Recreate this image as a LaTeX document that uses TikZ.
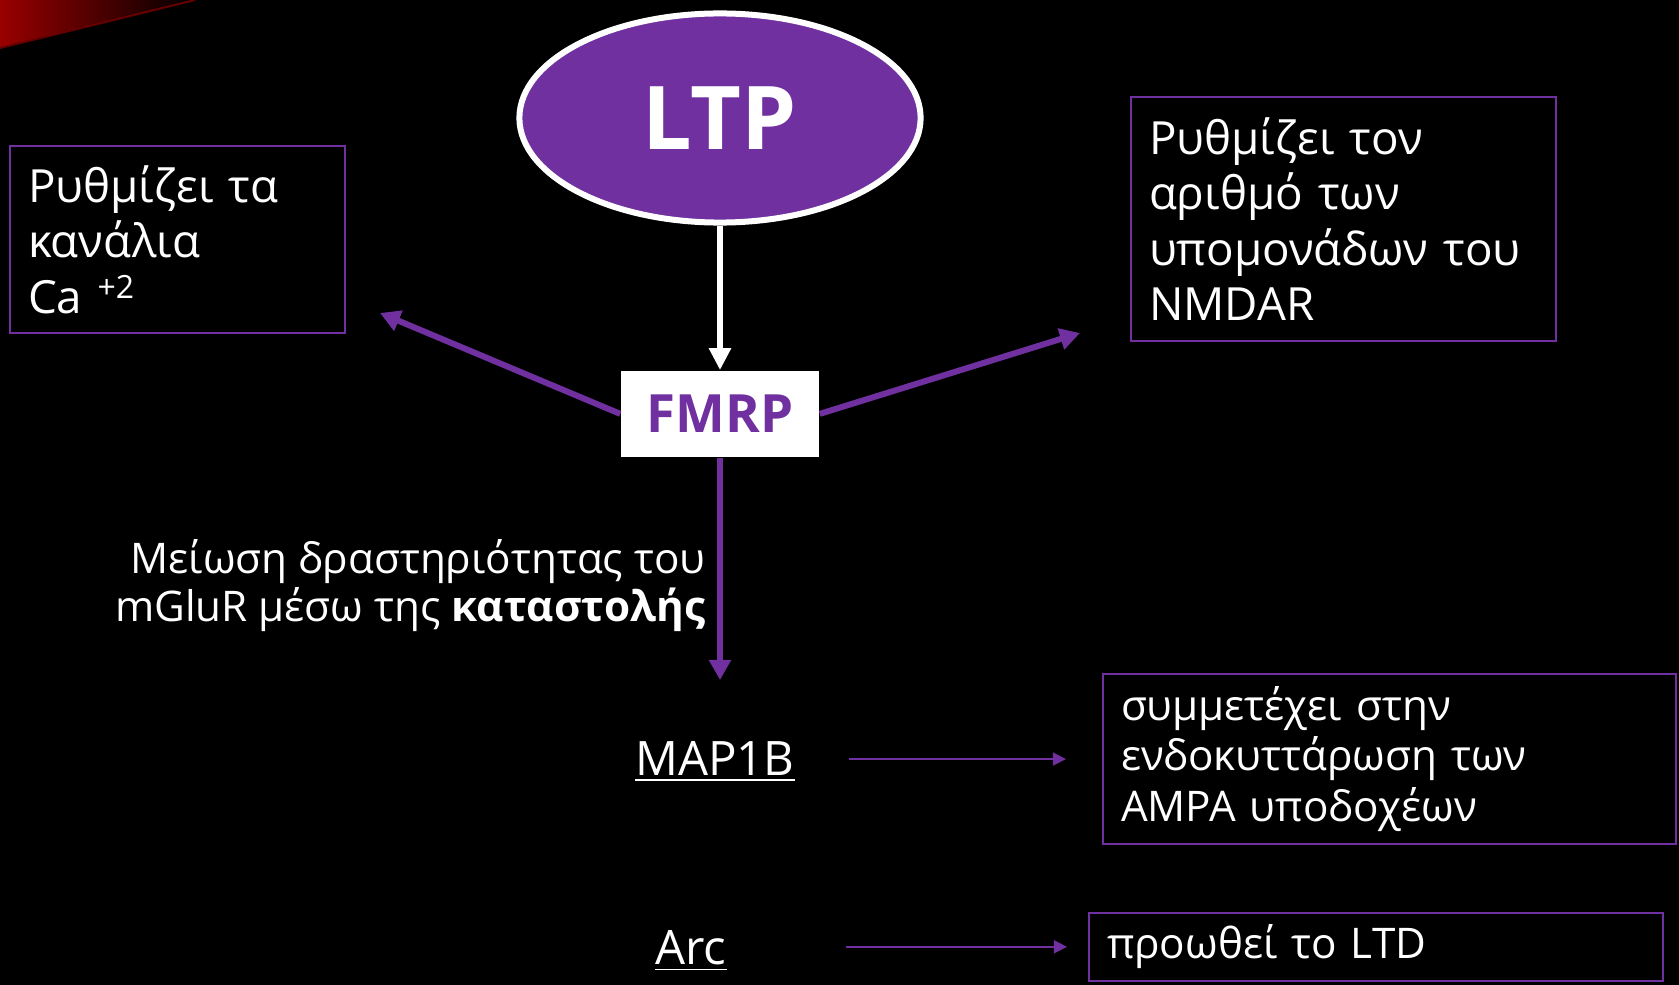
\documentclass[tikz,border=0pt]{standalone}
\usepackage{fontspec}
\setmainfont{Open Sans}
\usetikzlibrary{shapes.geometric, arrows.meta, positioning}
\definecolor{LtpPurple}{RGB}{112,48,160}

\begin{document}
\begin{tikzpicture}[
        x=0.01cm, y=-0.01cm,
        box/.style={draw=LtpPurple, line width=0.02cm, text=white, align=left, anchor=north west, inner xsep=0.18cm, font=\fontsize{13}{15.8}\selectfont},
        small/.style={box, font=\fontsize{12}{14.4}\selectfont},
        oval/.style={ellipse, draw=white, line width=0.06cm, fill=LtpPurple, text=white, inner sep=0pt, minimum width=4.01cm, minimum height=2.09cm, font=\bfseries\fontsize{25}{30}\selectfont},
        hub/.style={fill=white, text=LtpPurple, minimum width=1.98cm, minimum height=0.86cm, font=\bfseries\fontsize{15}{18}\selectfont},
        gene/.style={text=white, inner sep=0pt, anchor=base, font=\fontsize{13.5}{16}\selectfont},
        arrow/.style={-{Triangle[length=0.2cm, width=0.21cm]}, line width=0.06cm, LtpPurple},
        link/.style={-{Triangle[length=0.13cm, width=0.13cm]}, line width=0.015cm, LtpPurple}
    ]
    \useasboundingbox (0,0) rectangle (1679,985);
    \fill[black] (0,0) rectangle (1679,985);
    \shade[left color=red!60!black, right color=black] (0,0) -- (195,0) -- (0,48) -- cycle;
    \draw[red!40!black, line width=0.02cm] (0,48) -- (195,0);

    \node[oval] (ltp) at (720,118) {LTP};
    \node[hub, below=1.445cm of ltp] (fmrp) {FMRP};

    \node[box, text width=2.99cm, minimum height=1.87cm] (calcium) at (9,145) {Ρυθμίζει~τα\\κανάλια\\Ca \textsuperscript{+2}};
    \node[box, text width=3.89cm, minimum height=2.44cm] (nmdar) at (1130,96) {Ρυθμίζει~τον\\αριθμό~των\\υπομονάδων~του\\NMDAR};

    \node[gene] (mapb) at (715,775) {\underline{MAP1B}};
    \node[gene] (arc) at (691,964) {\underline{Arc}};
    \node[small, text width=5.37cm, minimum height=1.70cm] (ampa) at (1102,673) {συμμετέχει~στην\\ενδοκυττάρωση~των\\AMPA~υποδοχέων};
    \node[small, text width=5.38cm, minimum height=0.67cm] (ltd) at (1088,912) {προωθεί~το~LTD};

    \coordinate (catip) at (380,313);
    \coordinate (nmtip) at (1080,333);
    \coordinate (maptip) at (720,680);

    \draw[arrow, white, -{Triangle[length=0.22cm, width=0.21cm]}] (ltp) -- (fmrp);
    \draw[arrow] (fmrp.west) -- (catip);
    \draw[arrow] (fmrp.east) -- (nmtip);
    \draw[arrow] (fmrp) -- (maptip)
        node[left, pos=0.576, align=right, text=white, font=\fontsize{12}{13.7}\selectfont] (label) {Μείωση δραστηριότητας του\\mGluR μέσω της \textbf{καταστολής}};
    \draw[link, shorten <=0.54cm, shorten >=0.36cm] (mapb.east |- ampa.west) -- (ampa.west);
    \draw[link, shorten <=1.19cm, shorten >=0.21cm] (arc.east |- ltd.west) -- (ltd.west);
\end{tikzpicture}
\end{document}
